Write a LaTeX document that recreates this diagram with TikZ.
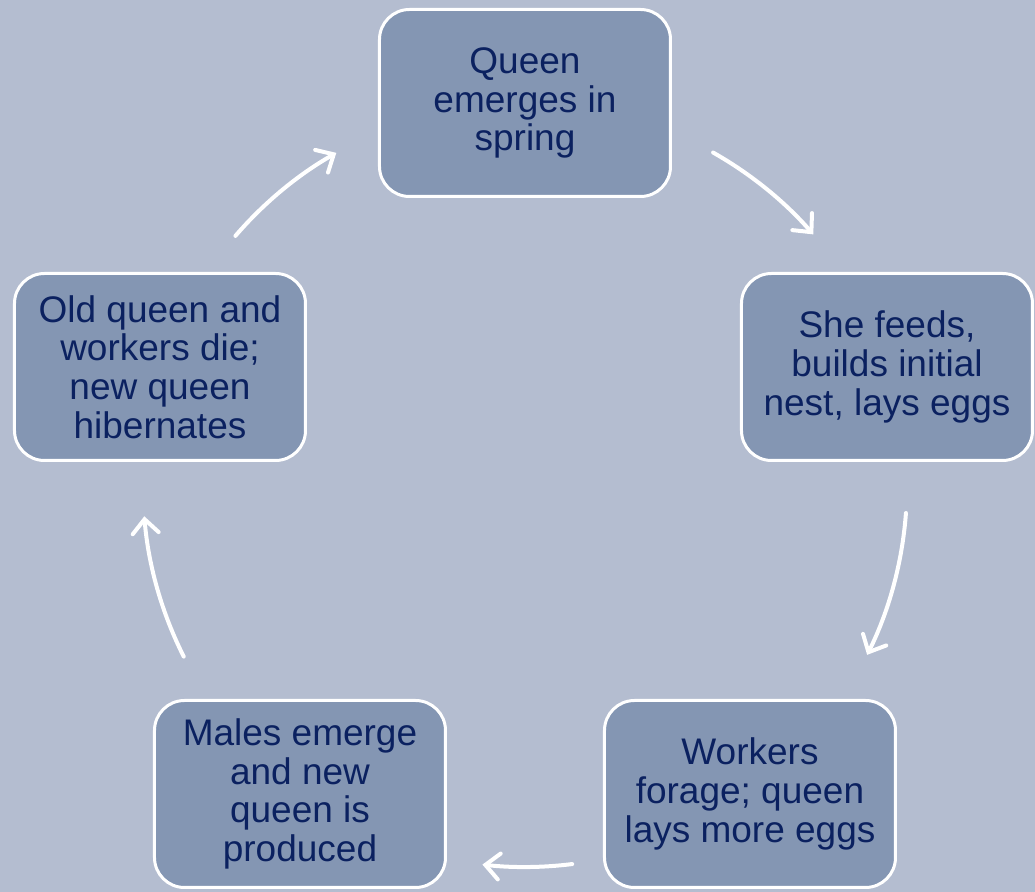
\documentclass[tikz,border=0pt]{standalone}
\usepackage{fontspec}
\setmainfont{Liberation Sans}
\usetikzlibrary{arrows.meta,positioning,calc}

\definecolor{pagebg}{HTML}{B4BDD0}
\definecolor{stagefill}{HTML}{8496B3}
\definecolor{stagetext}{HTML}{0B2160}

\tikzset{
  stage/.style={draw=white, line width=1.5pt, fill=stagefill, rounded corners=15pt,
    minimum width=145.5pt, minimum height=93.5pt, align=center, text=stagetext,
    font=\fontsize{18.5}{19.3}\selectfont},
  cyclearrow/.style={draw=white, line width=2pt, line cap=round,
    -{Straight Barb[length=7pt,width=13pt,line cap=round]}}
}

\begin{document}
\begin{tikzpicture}[on grid, node distance=100pt]

  \fill[pagebg] (-262.5pt,51.5pt) rectangle (255pt,-394.5pt);
  \useasboundingbox (-262.5pt,51.5pt) rectangle (255pt,-394.5pt);

  \node[stage] (spring)                                      {Queen\\emerges in\\spring};
  \node[stage] (feeds)    [below right=132pt and 181pt of spring]   {She feeds,\\builds initial\\nest, lays eggs};
  \node[stage] (forage)   [below left=213.5pt and 68.5pt of feeds]  {Workers\\forage; queen\\lays more eggs};
  \node[stage] (produced) [left=225pt of forage]              {Males emerge\\and new\\queen is\\produced};
  \node[stage] (hibern)   [above left=213.5pt and 70pt of produced] {Old queen and\\workers die;\\new queen\\hibernates};

  % centre of the cycle
  \coordinate (hub) at ($(spring)+(0,-191pt)$);

  \draw[cyclearrow] (hub) ++(60.5:191pt)  arc[start angle=60.5,  end angle=41,     radius=191pt];
  \draw[cyclearrow] (hub) ++(-4.2:191pt)  arc[start angle=-4.2,  end angle=-26.4,  radius=191pt];
  \draw[cyclearrow] (hub) ++(-82.9:191pt) arc[start angle=-82.9, end angle=-96.4,  radius=191pt];
  \draw[cyclearrow] (hub) ++(-153.3:191pt) arc[start angle=-153.3, end angle=-175.3, radius=191pt];
  \draw[cyclearrow] (hub) ++(139.3:191pt) arc[start angle=139.3, end angle=119.6,  radius=191pt];
\end{tikzpicture}
\end{document}
